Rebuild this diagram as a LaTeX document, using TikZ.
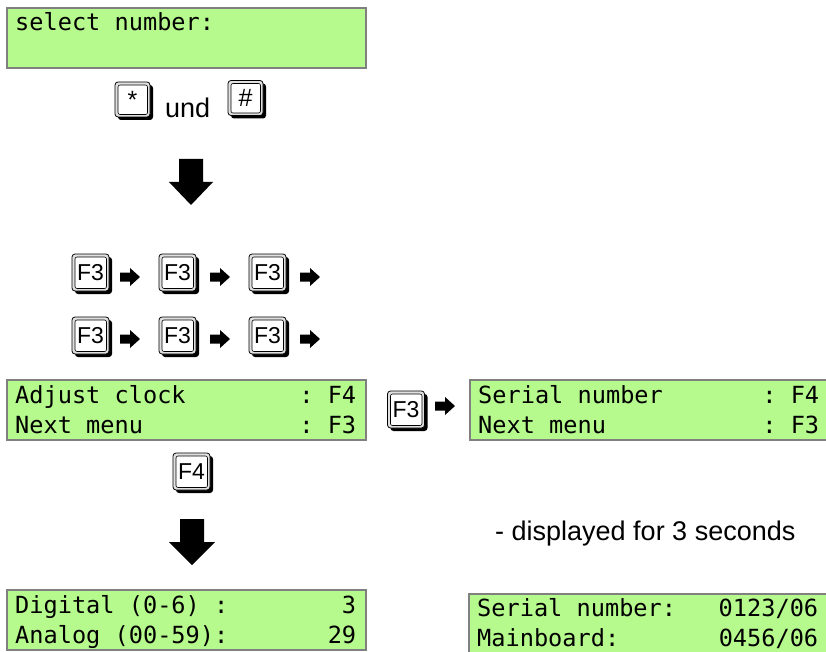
\documentclass[tikz,border=0pt]{standalone}
\usepackage{fontspec}
\setmainfont{Liberation Sans}
\newfontfamily\lcdfont{DejaVu Sans Mono}
\usetikzlibrary{shadows}
\definecolor{lcdgreen}{RGB}{182,250,142}
\definecolor{lcdframe}{RGB}{128,128,128}
\frenchspacing
% right-pointing block arrow, 20 units long, tip at x+20
\newcommand\blockarrow[2]{%
  \fill[shift={(#1,#2)}] (0,-4.5) -- (10,-4.5) -- (10,-9) -- (20,0) -- (10,9) -- (10,4.5) -- (0,4.5) -- cycle;}
\tikzset{
  lcd/.style={draw=lcdframe, line width=2pt, fill=lcdgreen, anchor=north west,
    minimum width=359pt, minimum height=60pt, inner sep=0pt},
  lcdline/.style={anchor=base west, inner sep=0pt, font=\lcdfont\fontsize{23.6}{28}\selectfont},
  label/.style={anchor=base west, inner sep=0pt, font=\fontsize{27}{30}\selectfont},
  keycap/.style={draw=black, line width=0.8pt, fill=black!12, rounded corners=3pt,
    minimum width=#1pt, minimum height=#1pt, inner sep=0pt,
    font=\fontsize{23}{23}\selectfont,
    drop shadow={shadow xshift=3pt, shadow yshift=-3pt, fill=black, opacity=1},
    path picture={\draw[black, line width=0.6pt, fill=white, rounded corners=2pt]
      ([shift={(3pt,-3pt)}]path picture bounding box.north west) rectangle
      ([shift={(-2.5pt,2.5pt)}]path picture bounding box.south east);}},
  keycap/.default=37,
  smallkey/.style={keycap=35, font=\fontsize{25}{25}\selectfont},
}
\begin{document}
\begin{tikzpicture}[x=1pt,y=-1pt]
\useasboundingbox (0,0) rectangle (826,652);

% display: select number
\node[lcd] (scr1) at (6,7) {};
\node[lcdline] (scr1a) at (15,31) {select number:};

% keys * and #
\node[smallkey] (kstar) at (132.5,99.5) {\raisebox{-3pt}{*}};
\node[label] (und) at (165,118) {und};
\node[smallkey] (khash) at (245.5,98) {\raisebox{1pt}{\#}};

% big arrow down
\fill (179,159) -- (203,159) -- (203,182) -- (213,182) -- (191,205) -- (169,182) -- (179,182) -- cycle;

% F3 key sequence, two rows
\foreach \r/\y/\ay in {1/272.5/277, 2/335.5/339} {
  \node[keycap] (f3r\r a) at (90.5,\y) {F3};
  \node[keycap] (f3r\r b) at (177.5,\y) {F3};
  \node[keycap] (f3r\r c) at (267.5,\y) {F3};
  \blockarrow{120}{\ay}
  \blockarrow{210}{\ay}
  \blockarrow{300}{\ay}
}

% display: adjust clock menu
\node[lcd] (scr2) at (6,379) {};
\node[lcdline] (scr2a) at (15,403) {Adjust clock~~~~~~~~: F4};
\node[lcdline] (scr2b) at (15,433) {Next menu~~~~~~~~~~~: F3};

% F3 to serial number menu
\node[keycap] (f3s) at (406,409.5) {F3};
\blockarrow{435}{406}
\node[lcd] (scr3) at (469,379) {};
\node[lcdline] (scr3a) at (478,403) {Serial number~~~~~~~: F4};
\node[lcdline] (scr3b) at (478,433) {Next menu~~~~~~~~~~~: F3};

% F4 key and arrow down
\node[keycap] (f4) at (191.5,471.5) {F4};
\fill (180,519) -- (204,519) -- (204,542) -- (215,542) -- (192,565) -- (169,542) -- (180,542) -- cycle;

% display: clock values
\node[lcd] (scr4) at (6,589) {};
\node[lcdline] (scr4a) at (15,613) {Digital (0-6) :~~~~~~~~3};
\node[lcdline] (scr4b) at (15,643) {Analog (00-59):~~~~~~~29};

% note and serial number display
\node[label] (note) at (495,540) {- displayed for 3 seconds};
\node[lcd] (scr5) at (468,593) {};
\node[lcdline] (scr5a) at (477,616) {Serial number:~~~0123/06};
\node[lcdline] (scr5b) at (477,646) {Mainboard:~~~~~~~0456/06};
\end{tikzpicture}
\end{document}
